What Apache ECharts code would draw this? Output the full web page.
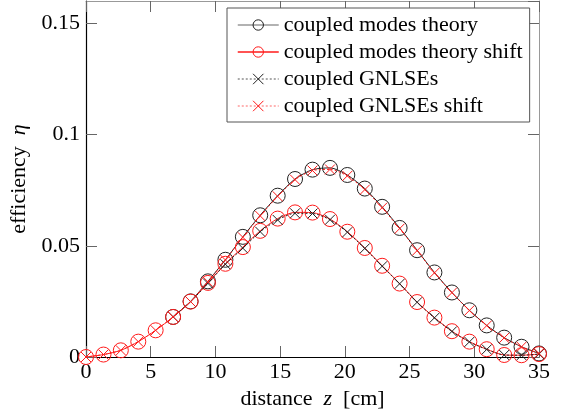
<!DOCTYPE html>
<html>
<head>
<meta charset="utf-8">
<script src="https://cdn.jsdelivr.net/npm/echarts@6/dist/echarts.min.js"></script>
<style>
html,body{margin:0;padding:0;background:#fff;}
#chart{width:568px;height:415px;}
</style>
</head>
<body>
<div id="chart"></div>
<script>
// distance z [cm] of the marker points
var zValues = [0, 1.35, 2.69, 4.04, 5.38, 6.73, 8.08, 9.42, 10.77, 12.12, 13.46, 14.81, 16.15, 17.5, 18.85, 20.19, 21.54, 22.88, 24.23, 25.58, 26.92, 28.27, 29.62, 30.96, 32.31, 33.65, 35];

// efficiency values (null = no marker drawn)
var modesTheory = [null, null, null, null, null, 0.018, 0.025, 0.034, 0.0437, 0.054, 0.0637, 0.0725, 0.080, 0.0842, 0.085, 0.0818, 0.0757, 0.0675, 0.058, 0.048, 0.038, 0.029, 0.021, 0.0142, 0.0087, 0.0046, 0.0016];
var modesTheoryShift = [0, 0.0011, 0.003, 0.0069, 0.012, 0.018, 0.0249, 0.0333, 0.0419, 0.0494, 0.0567, 0.0622, 0.065, 0.0649, 0.062, 0.0563, 0.049, 0.041, 0.033, 0.0247, 0.0177, 0.0116, 0.0069, 0.0035, 0.0009, 0.0008, 0.0013];
var gnlse = [null, null, null, null, null, 0.0181, 0.0249, 0.0331, 0.0417, 0.0489, 0.0563, 0.0616, 0.0646, 0.0645, 0.0617, 0.0561, 0.0488, 0.0408, 0.0329, 0.0246, 0.0176, 0.0115, 0.0068, 0.0034, 0.0009, 0.0008, 0.0013];
var gnlseShift = [0, 0.0011, 0.003, 0.0069, 0.012, 0.018, 0.0249, 0.0338, 0.0436, 0.0538, 0.0634, 0.0722, 0.0797, 0.0838, 0.0843, 0.0814, 0.0752, 0.0671, 0.0577, 0.0478, 0.0378, 0.0289, 0.0209, 0.0141, 0.0086, 0.0046, 0.0016];

var xTicks = [0, 5, 10, 15, 20, 25, 30, 35];
var yTicks = [0, 0.05, 0.1, 0.15];

function pairs(vals) {
  var out = [];
  for (var i = 0; i < zValues.length; i++) {
    if (vals[i] !== null) out.push([zValues[i], vals[i]]);
  }
  return out;
}

var FONT = 'Liberation Serif';
var BLACK = '#222';
var RED = '#ff1a1a';
var XSYM = 'path://M0,0L10,10M0,10L10,0';

var chart = echarts.init(document.getElementById('chart'), null, {renderer: 'canvas'});

var option = {
  backgroundColor: '#fff',
  animation: false,
  grid: {left: 86, right: 29, top: 1, bottom: 58, containLabel: false},
  legend: {
    orient: 'vertical',
    left: 227,
    top: 8,
    padding: [6, 7, 5, 10],
    itemWidth: 41,
    itemHeight: 13,
    itemGap: 5,
    backgroundColor: '#fff',
    borderColor: '#555',
    borderWidth: 1,
    borderRadius: 0,
    textStyle: {fontFamily: FONT, fontSize: 22, color: '#000', lineHeight: 22},
    itemStyle: {borderWidth: 1},
    data: [
      {name: 'coupled modes theory', lineStyle: {color: '#999', width: 1.5}},
      {name: 'coupled modes theory shift', lineStyle: {width: 1.5}},
      {name: 'coupled GNLSEs', lineStyle: {width: 1, color: '#555'}},
      {name: 'coupled GNLSEs shift', lineStyle: {width: 1, color: '#ff6666'}}
    ]
  },
  xAxis: [
    {
      type: 'value', min: xTicks[0], max: xTicks[xTicks.length - 1], interval: 5, position: 'bottom',
      name: '{a|distance  }{b|z}{a|  [cm]}', nameLocation: 'middle', nameGap: 30,
      nameTextStyle: {rich: {a: {fontFamily: FONT, fontSize: 22, color: '#000'}, b: {fontFamily: FONT, fontSize: 22, fontStyle: 'italic', color: '#000'}}},
      axisLine: {show: true, onZero: false, lineStyle: {color: '#000', width: 1.2}},
      axisTick: {show: true, inside: true, length: 11, lineStyle: {color: '#666', width: 1}},
      axisLabel: {fontFamily: FONT, fontSize: 22, color: '#000', margin: 4},
      splitLine: {show: false}
    },
    {
      type: 'value', min: xTicks[0], max: xTicks[xTicks.length - 1], interval: 5, position: 'top',
      axisLine: {show: true, onZero: false, lineStyle: {color: '#999', width: 1}},
      axisTick: {show: true, inside: true, length: 11, lineStyle: {color: '#666', width: 1}},
      axisLabel: {show: false},
      splitLine: {show: false}
    }
  ],
  yAxis: [
    {
      type: 'value', min: 0, max: 0.16, interval: 0.05, position: 'left',
      name: '{a|efficiency  }{b|η}', nameLocation: 'middle', nameGap: 50, nameRotate: 90,
      nameTextStyle: {rich: {a: {fontFamily: FONT, fontSize: 22, color: '#000'}, b: {fontFamily: FONT, fontSize: 22, fontStyle: 'italic', color: '#000'}}},
      axisLine: {show: true, onZero: false, lineStyle: {color: '#000', width: 1.2}},
      axisTick: {show: true, inside: true, length: 11, lineStyle: {color: '#666', width: 1}},
      axisLabel: {fontFamily: FONT, fontSize: 22, color: '#000', margin: 6, showMaxLabel: false,
        formatter: function (v) { return yTicks.indexOf(Math.round(v * 100) / 100) >= 0 ? String(Math.round(v * 100) / 100) : ''; }},
      splitLine: {show: false}
    },
    {
      type: 'value', min: 0, max: 0.16, interval: 0.05, position: 'right',
      axisLine: {show: true, onZero: false, lineStyle: {color: '#999', width: 1}},
      axisTick: {show: true, inside: true, length: 11, lineStyle: {color: '#666', width: 1}},
      axisLabel: {show: false},
      splitLine: {show: false}
    }
  ],
  series: [
    {
      name: 'coupled modes theory', type: 'line', data: pairs(modesTheory), smooth: 0.25,
      symbol: 'circle', symbolSize: 15,
      itemStyle: {color: 'rgba(0,0,0,0)', borderColor: BLACK, borderWidth: 1},
      lineStyle: {color: BLACK, width: 1, type: 'solid'}, z: 2
    },
    {
      name: 'coupled modes theory shift', type: 'line', data: pairs(modesTheoryShift), smooth: 0.25,
      symbol: 'circle', symbolSize: 15,
      itemStyle: {color: 'rgba(0,0,0,0)', borderColor: RED, borderWidth: 1},
      lineStyle: {color: RED, width: 1, type: 'solid'}, z: 3
    },
    {
      name: 'coupled GNLSEs', type: 'line', data: pairs(gnlse), smooth: 0.25,
      symbol: XSYM, symbolSize: 10,
      itemStyle: {color: 'rgba(0,0,0,0)', borderColor: BLACK, borderWidth: 1},
      lineStyle: {color: BLACK, width: 1, type: [2, 2]}, z: 4
    },
    {
      name: 'coupled GNLSEs shift', type: 'line', data: pairs(gnlseShift), smooth: 0.25,
      symbol: XSYM, symbolSize: 10,
      itemStyle: {color: 'rgba(0,0,0,0)', borderColor: RED, borderWidth: 1},
      lineStyle: {color: RED, width: 1, type: [2, 2]}, z: 5
    }
  ]
};
chart.setOption(option);
</script>
</body>
</html>
